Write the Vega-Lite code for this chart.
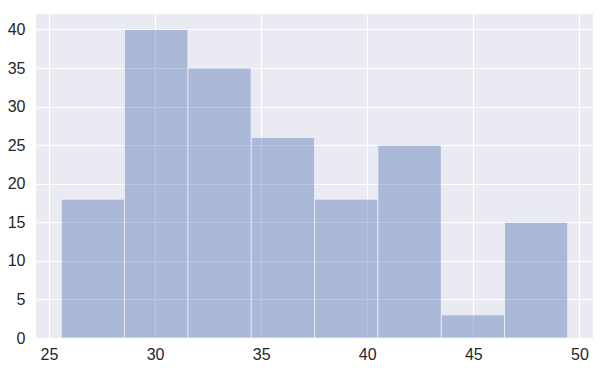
{
  "$schema": "https://vega.github.io/schema/vega-lite/v6.json",
  "width": 557,
  "height": 324,
  "autosize": "none",
  "padding": {"left": 36, "top": 14, "right": 13, "bottom": 30},
  "background": "white",
  "config": {
    "view": {"fill": "#EAEAF2", "stroke": null},
    "axis": {
      "grid": true, "gridColor": "white", "gridWidth": 1.2,
      "domain": false, "ticks": false,
      "labelFont": "Liberation Sans", "labelFontSize": 16, "labelColor": "#262626",
      "title": null
    }
  },
  "data": {"values": [
    {"start": 25.58, "end": 28.56, "count": 18},
    {"start": 28.56, "end": 31.55, "count": 40},
    {"start": 31.55, "end": 34.53, "count": 35},
    {"start": 34.53, "end": 37.52, "count": 26},
    {"start": 37.52, "end": 40.50, "count": 18},
    {"start": 40.50, "end": 43.49, "count": 25},
    {"start": 43.49, "end": 46.47, "count": 3},
    {"start": 46.47, "end": 49.45, "count": 15}
  ]},
  "mark": {"type": "bar", "color": "#4C72B0", "opacity": 0.4, "stroke": "white", "strokeWidth": 0.8, "strokeOpacity": 1},
  "encoding": {
    "x": {"field": "start", "type": "quantitative", "scale": {"domain": [24.39, 50.64], "nice": false, "zero": false},
      "axis": {"values": [25, 30, 35, 40, 45, 50], "labelPadding": 8}},
    "x2": {"field": "end"},
    "y": {"field": "count", "type": "quantitative", "scale": {"domain": [0, 42], "nice": false},
      "axis": {"values": [0, 5, 10, 15, 20, 25, 30, 35, 40], "labelPadding": 11}},
    "y2": {"datum": 0}
  }
}
